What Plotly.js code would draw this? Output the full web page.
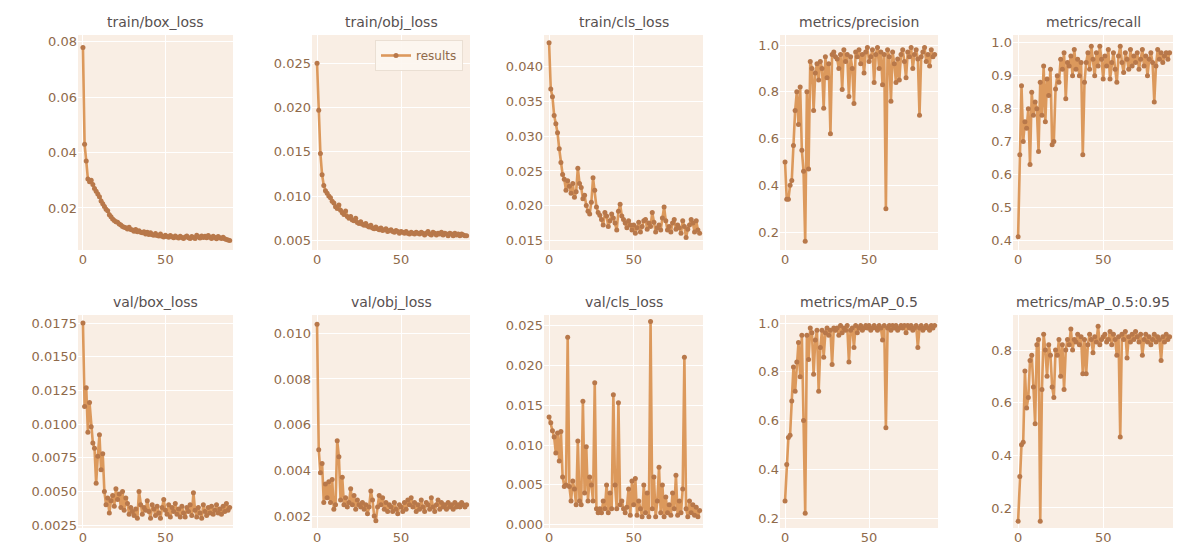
<!DOCTYPE html>
<html>
<head>
<meta charset="utf-8">
<script src="https://cdn.plot.ly/plotly-3.0.1.min.js"></script>
<style>html,body{margin:0;padding:0;background:#fff}#chart{width:1191px;height:555px}</style>
</head>
<body>
<div id="chart"></div>
<script>
// ---- data (epochs 0..89) ----
var titles = ["train/box_loss","train/obj_loss","train/cls_loss","metrics/precision","metrics/recall",
              "val/box_loss","val/obj_loss","val/cls_loss","metrics/mAP_0.5","metrics/mAP_0.5:0.95"];

var train_box_loss = [
0.0780,0.0430,0.0370,0.0305,0.0295,0.0300,0.0285,0.0270,0.0260,0.0250,
0.0240,0.0225,0.0215,0.0205,0.0195,0.0190,0.0175,0.0168,0.0160,0.0155,
0.0150,0.0148,0.0142,0.0138,0.0133,0.0130,0.0128,0.0124,0.0130,0.0122,
0.0120,0.0116,0.0122,0.0114,0.0118,0.0112,0.0110,0.0114,0.0106,0.0112,
0.0104,0.0110,0.0103,0.0101,0.0108,0.0100,0.0099,0.0106,0.0098,0.0095,
0.0101,0.0097,0.0094,0.0100,0.0096,0.0092,0.0099,0.0094,0.0091,0.0098,
0.0093,0.0090,0.0095,0.0099,0.0092,0.0090,0.0097,0.0093,0.0090,0.0101,
0.0096,0.0091,0.0099,0.0093,0.0098,0.0092,0.0100,0.0094,0.0090,0.0098,
0.0093,0.0089,0.0097,0.0092,0.0090,0.0094,0.0089,0.0086,0.0084,0.0082];

var train_obj_loss = [
0.0250,0.0197,0.0148,0.0124,0.0112,0.0106,0.0103,0.0100,0.0098,0.0094,
0.0092,0.0088,0.0086,0.0090,0.0084,0.0081,0.0079,0.0083,0.0077,0.0075,
0.0077,0.0073,0.0072,0.0075,0.0070,0.0069,0.0071,0.0068,0.0067,0.0069,
0.0066,0.0065,0.0067,0.0064,0.0063,0.0065,0.0063,0.0062,0.0064,0.0061,
0.0062,0.0063,0.0060,0.0061,0.0062,0.0060,0.0059,0.0061,0.0060,0.0058,
0.0060,0.0059,0.0058,0.0060,0.0058,0.0057,0.0059,0.0058,0.0057,0.0059,
0.0058,0.0057,0.0059,0.0058,0.0056,0.0058,0.0060,0.0057,0.0056,0.0059,
0.0058,0.0056,0.0058,0.0057,0.0059,0.0056,0.0058,0.0057,0.0055,0.0058,
0.0057,0.0055,0.0058,0.0056,0.0057,0.0055,0.0057,0.0056,0.0055,0.0055];

var train_cls_loss = [
0.0435,0.0368,0.0357,0.0330,0.0318,0.0305,0.0282,0.0262,0.0245,0.0238,
0.0222,0.0236,0.0228,0.0218,0.0232,0.0212,0.0220,0.0254,0.0232,0.0226,
0.0210,0.0215,0.0200,0.0192,0.0188,0.0205,0.0240,0.0222,0.0198,0.0190,
0.0186,0.0180,0.0172,0.0190,0.0185,0.0170,0.0178,0.0188,0.0182,0.0175,
0.0165,0.0192,0.0202,0.0185,0.0180,0.0175,0.0168,0.0178,0.0172,0.0165,
0.0172,0.0160,0.0168,0.0176,0.0162,0.0170,0.0178,0.0180,0.0166,0.0175,
0.0170,0.0190,0.0176,0.0162,0.0168,0.0172,0.0165,0.0182,0.0198,0.0178,
0.0165,0.0170,0.0162,0.0175,0.0180,0.0166,0.0172,0.0168,0.0160,0.0178,
0.0170,0.0154,0.0166,0.0172,0.0180,0.0175,0.0162,0.0178,0.0165,0.0160];

var metrics_precision = [
0.50,0.34,0.34,0.40,0.42,0.57,0.72,0.80,0.66,0.82,
0.55,0.46,0.16,0.80,0.47,0.93,0.90,0.72,0.88,0.92,
0.85,0.93,0.90,0.73,0.95,0.86,0.92,0.62,0.96,0.97,
0.95,0.94,0.90,0.96,0.81,0.98,0.93,0.96,0.78,0.95,
0.90,0.75,0.97,0.95,0.98,0.92,0.96,0.88,0.97,0.99,
0.93,0.95,0.98,0.84,0.96,0.99,0.90,0.97,0.83,0.96,
0.30,0.98,0.95,0.76,0.97,0.92,0.84,0.94,0.85,0.96,
0.98,0.93,0.86,0.97,0.95,0.99,0.90,0.96,0.98,0.94,
0.70,0.95,0.97,0.99,0.93,0.96,0.91,0.98,0.95,0.96];

var metrics_recall = [
0.41,0.66,0.87,0.70,0.76,0.74,0.80,0.63,0.85,0.78,
0.82,0.80,0.67,0.88,0.78,0.93,0.76,0.89,0.84,0.92,
0.69,0.70,0.86,0.90,0.88,0.95,0.92,0.97,0.83,0.94,
0.93,0.96,0.90,0.98,0.92,0.95,0.90,0.94,0.66,0.88,
0.94,0.97,0.92,0.99,0.95,0.90,0.97,0.93,0.99,0.95,
0.89,0.96,0.93,0.98,0.89,0.94,0.97,0.92,0.88,0.96,
0.99,0.94,0.91,0.97,0.95,0.92,0.98,0.93,0.96,0.94,
0.97,0.92,0.95,0.98,0.93,0.96,0.90,0.95,0.97,0.94,
0.82,0.93,0.98,0.95,0.97,0.94,0.96,0.97,0.95,0.97];

var val_box_loss = [
0.0175,0.0113,0.0127,0.0094,0.0116,0.0098,0.0086,0.0082,0.0056,0.0076,
0.0092,0.0066,0.0078,0.0050,0.0040,0.0045,0.0034,0.0043,0.0047,0.0039,
0.0052,0.0044,0.0048,0.0038,0.0050,0.0036,0.0045,0.0041,0.0033,0.0038,
0.0035,0.0032,0.0037,0.0030,0.0050,0.0040,0.0033,0.0038,0.0036,0.0043,
0.0035,0.0030,0.0040,0.0037,0.0032,0.0039,0.0034,0.0030,0.0038,0.0044,
0.0036,0.0033,0.0040,0.0031,0.0038,0.0035,0.0041,0.0033,0.0037,0.0031,
0.0039,0.0034,0.0031,0.0038,0.0035,0.0040,0.0032,0.0049,0.0036,0.0031,
0.0038,0.0034,0.0030,0.0040,0.0035,0.0032,0.0038,0.0034,0.0039,0.0033,
0.0036,0.0040,0.0034,0.0037,0.0033,0.0039,0.0035,0.0041,0.0036,0.0038];

var val_obj_loss = [
0.0104,0.0049,0.0039,0.0043,0.0026,0.0034,0.0028,0.0035,0.0026,0.0036,
0.0023,0.0025,0.0053,0.0046,0.0027,0.0037,0.0025,0.0028,0.0024,0.0026,
0.0032,0.0025,0.0029,0.0023,0.0027,0.0025,0.0024,0.0026,0.0023,0.0025,
0.0021,0.0024,0.0031,0.0027,0.0020,0.0018,0.0024,0.0029,0.0025,0.0028,
0.0023,0.0026,0.0022,0.0025,0.0024,0.0022,0.0026,0.0023,0.0021,0.0025,
0.0024,0.0022,0.0026,0.0023,0.0027,0.0025,0.0028,0.0024,0.0026,0.0022,
0.0025,0.0023,0.0027,0.0024,0.0022,0.0026,0.0025,0.0023,0.0028,0.0024,
0.0022,0.0025,0.0027,0.0023,0.0026,0.0024,0.0025,0.0023,0.0026,0.0024,
0.0025,0.0023,0.0026,0.0024,0.0025,0.0024,0.0026,0.0025,0.0024,0.0025];

var val_cls_loss = [
0.0135,0.0128,0.0118,0.0110,0.0090,0.0115,0.0080,0.0117,0.0060,0.0048,
0.0050,0.0235,0.0048,0.0030,0.0055,0.0045,0.0025,0.0105,0.0030,0.0025,
0.0155,0.0040,0.0098,0.0030,0.0060,0.0050,0.0030,0.0178,0.0020,0.0015,
0.0020,0.0015,0.0030,0.0020,0.0050,0.0015,0.0040,0.0020,0.0163,0.0050,
0.0020,0.0153,0.0025,0.0030,0.0020,0.0015,0.0022,0.0045,0.0012,0.0055,
0.0025,0.0058,0.0012,0.0030,0.0020,0.0010,0.0050,0.0015,0.0040,0.0010,
0.0255,0.0020,0.0060,0.0010,0.0030,0.0072,0.0015,0.0050,0.0010,0.0035,
0.0015,0.0025,0.0012,0.0040,0.0020,0.0062,0.0012,0.0030,0.0015,0.0045,
0.0210,0.0020,0.0010,0.0030,0.0015,0.0025,0.0012,0.0022,0.0010,0.0018];

var metrics_mAP_05 = [
0.27,0.42,0.53,0.54,0.68,0.82,0.72,0.84,0.92,0.78,
0.95,0.60,0.22,0.95,0.85,0.98,0.96,0.79,0.93,0.97,
0.72,0.90,0.97,0.86,0.96,0.98,0.95,0.97,0.83,0.98,
0.97,0.98,0.95,0.99,0.96,0.98,0.97,0.99,0.84,0.97,
0.98,0.90,0.99,0.96,0.98,0.99,0.97,0.98,0.99,0.98,
0.99,0.97,0.98,0.99,0.98,0.97,0.99,0.98,0.93,0.99,
0.57,0.98,0.99,0.97,0.99,0.98,0.99,0.97,0.98,0.99,
0.98,0.99,0.96,0.99,0.98,0.99,0.97,0.98,0.99,0.90,
0.98,0.99,0.97,0.98,0.99,0.98,0.97,0.99,0.98,0.99];

var metrics_mAP_05_095 = [
0.15,0.32,0.44,0.45,0.72,0.58,0.62,0.76,0.78,0.66,
0.52,0.82,0.84,0.15,0.65,0.86,0.80,0.70,0.82,0.78,
0.66,0.62,0.80,0.78,0.84,0.70,0.82,0.65,0.80,0.84,
0.82,0.88,0.80,0.84,0.83,0.86,0.82,0.85,0.71,0.84,
0.71,0.82,0.86,0.84,0.79,0.85,0.83,0.89,0.82,0.84,
0.85,0.86,0.83,0.84,0.87,0.82,0.86,0.84,0.78,0.85,
0.47,0.86,0.84,0.87,0.77,0.85,0.83,0.86,0.84,0.87,
0.85,0.83,0.86,0.78,0.84,0.86,0.83,0.85,0.82,0.84,
0.86,0.83,0.85,0.84,0.76,0.85,0.83,0.86,0.84,0.85];

var series = [train_box_loss, train_obj_loss, train_cls_loss, metrics_precision, metrics_recall,
              val_box_loss, val_obj_loss, val_cls_loss, metrics_mAP_05, metrics_mAP_05_095];

var yTicks = [
  [0.02,0.04,0.06,0.08],
  [0.005,0.010,0.015,0.020,0.025],
  [0.015,0.020,0.025,0.030,0.035,0.040],
  [0.2,0.4,0.6,0.8,1.0],
  [0.4,0.5,0.6,0.7,0.8,0.9,1.0],
  [0.0025,0.0050,0.0075,0.0100,0.0125,0.0150,0.0175],
  [0.002,0.004,0.006,0.008,0.010],
  [0.000,0.005,0.010,0.015,0.020,0.025],
  [0.2,0.4,0.6,0.8,1.0],
  [0.2,0.4,0.6,0.8]
];
var yTickText = [
  ["0.02","0.04","0.06","0.08"],
  ["0.005","0.010","0.015","0.020","0.025"],
  ["0.015","0.020","0.025","0.030","0.035","0.040"],
  ["0.2","0.4","0.6","0.8","1.0"],
  ["0.4","0.5","0.6","0.7","0.8","0.9","1.0"],
  ["0.0025","0.0050","0.0075","0.0100","0.0125","0.0150","0.0175"],
  ["0.002","0.004","0.006","0.008","0.010"],
  ["0.000","0.005","0.010","0.015","0.020","0.025"],
  ["0.2","0.4","0.6","0.8","1.0"],
  ["0.2","0.4","0.6","0.8"]
];
var xTicks = [0, 50];
var xTickText = ["0", "50"];

// ---- layout / styling ----
var W = 1191, H = 555;
var yRanges = [
  [0.0048,0.0825],[0.0039,0.0282],[0.0136,0.0446],[0.123,1.043],[0.37,1.024],
  [0.00228,0.0181],[0.00148,0.0108],[-0.0004,0.0263],[0.159,1.033],[0.124,0.933]
];
var colPx = [[78,233],[312,470],[544,703],[780,938],[1013,1173]];
var rowPx = [[35,250],[315,528]];

var lineColor = "#dc995c", markerColor = "#b8784a";
var tickColor = "#8f6a4a", titleColor = "#575050";
var bg = "#f9eee4";

var traces = [], layout = {
  width: W, height: H, margin: {l:0,r:0,t:0,b:0},
  paper_bgcolor: "#ffffff", plot_bgcolor: bg,
  font: {family: "DejaVu Sans, sans-serif", size: 13, color: tickColor},
  showlegend: true,
  legend: {x: 463/W, xanchor: "right", y: 1-40/H, yanchor: "top",
           bgcolor: "rgba(252,246,240,0.9)", bordercolor: "#eadfd3", borderwidth: 1,
           font: {size: 12, color: tickColor}},
  annotations: []
};

for (var i = 0; i < 10; i++) {
  var r = Math.floor(i / 5), c = i % 5, n = i + 1;
  var sfx = (n === 1 ? "" : String(n));
  var xs = series[i].map(function(_, k){ return k; });
  traces.push({
    x: xs, y: series[i], type: "scatter", mode: "lines+markers",
    xaxis: "x" + sfx, yaxis: "y" + sfx,
    name: "results", showlegend: i === 1,
    line: {color: lineColor, width: 2.6},
    marker: {color: markerColor, size: 5}
  });
  layout["xaxis" + sfx] = {
    domain: [colPx[c][0]/W, colPx[c][1]/W], anchor: "y" + sfx,
    range: [-3, 91], tickvals: xTicks, ticktext: xTickText,
    showgrid: true, gridcolor: "#ffffff", gridwidth: 1, zeroline: false,
    showline: false, ticks: "", ticklen: 0, tickfont: {size: 13, color: tickColor}
  };
  layout["yaxis" + sfx] = {
    domain: [1 - rowPx[r][1]/H, 1 - rowPx[r][0]/H], anchor: "x" + sfx,
    range: yRanges[i], tickvals: yTicks[i], ticktext: yTickText[i],
    showgrid: true, gridcolor: "#ffffff", gridwidth: 1, zeroline: false,
    showline: false, ticks: "", ticklen: 0, tickfont: {size: 13, color: tickColor}
  };
  layout.annotations.push({
    text: titles[i], showarrow: false,
    xref: "x" + sfx + " domain", yref: "y" + sfx + " domain",
    x: 0.5, y: 1, xanchor: "center", yanchor: "bottom", yshift: 3,
    font: {size: 14, color: titleColor}
  });
}

Plotly.newPlot("chart", traces, layout, {staticPlot: true, displayModeBar: false});
</script>
</body>
</html>
